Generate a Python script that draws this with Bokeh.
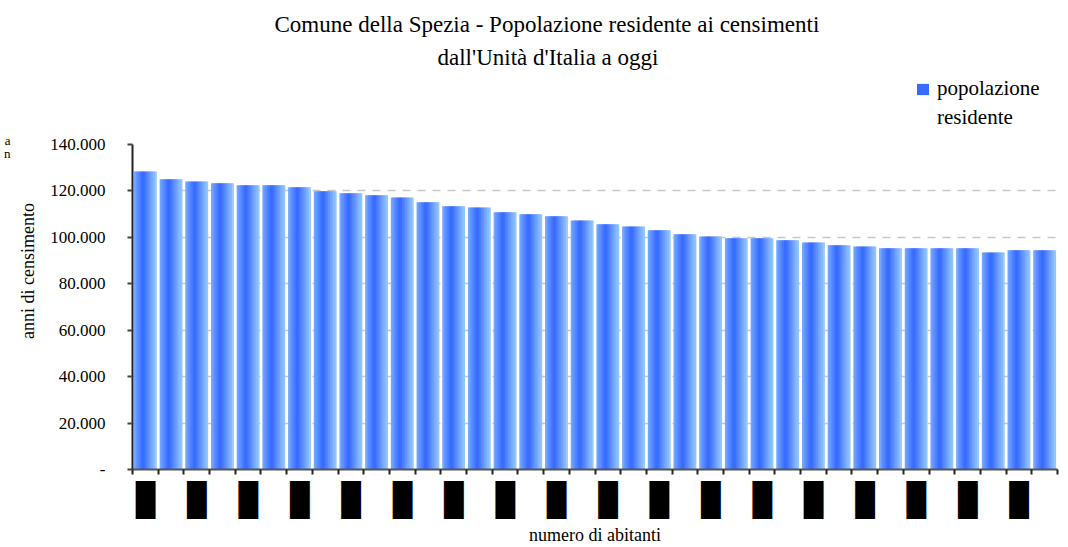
import numpy as np
from bokeh.plotting import figure
from bokeh.models import (ColumnDataSource, FixedTicker, LinearAxis, Legend,
                          LegendItem, Range1d, Grid, Title)
from bokeh.transform import dodge
from bokeh.embed import file_html
from bokeh.resources import INLINE

# ---------------- data ----------------
populations = [128400, 125000, 124100, 123300, 122400, 122400, 121600, 119800,
               119000, 118100, 117200, 115100, 113400, 112900, 110800, 109900,
               109100, 107300, 105600, 104700, 103000, 101300, 100400, 99600,
               99600, 98700, 97800, 96600, 96100, 95300, 95300, 95300,
               95300, 93500, 94400, 94400]
x_tick_labels = ["\u2588"] * 18          # labels shown on every other category
y_ticks = [0, 20000, 40000, 60000, 80000, 100000, 120000, 140000]
y_tick_labels = ["-", "20.000", "40.000", "60.000", "80.000", "100.000", "120.000", "140.000"]
title_lines = ["Comune della Spezia - Popolazione residente ai censimenti",
               "dall'Unit\u00e0 d'Italia a oggi"]
legend_lines = ["popolazione", "residente"]
y_title = "anni di censimento"
x_title = "numero di abitanti"
stray_texts = ["a", "n"]
stray_pos = [141800, 136200]

n = len(populations)
src = ColumnDataSource(dict(x=[i + 0.5 for i in range(n)], pop=populations))

SERIF = "Liberation Serif"

# y range extends above 140.000 so the legend lies inside the frame
p = figure(width=1068, height=547, x_range=Range1d(0, n), y_range=Range1d(0, 171000),
           output_backend="svg", toolbar_location=None,
           min_border_left=132, min_border_right=11, min_border_top=72, min_border_bottom=78,
           x_axis_location=None, y_axis_location=None)
p.outline_line_color = None
p.background_fill_color = "white"
p.border_fill_color = "white"
p.grid.visible = False

# y axis
yaxis = LinearAxis(ticker=FixedTicker(ticks=y_ticks, minor_ticks=[]),
                   major_label_overrides=dict(zip(y_ticks, y_tick_labels)),
                   bounds=(0, 140000))
yaxis.axis_line_color = "#222222"
yaxis.axis_line_width = 2
yaxis.major_tick_line_color = "#444444"
yaxis.major_tick_line_width = 2
yaxis.major_tick_out = 5
yaxis.major_tick_in = 0
yaxis.major_label_standoff = 22
yaxis.major_label_text_font = SERIF
yaxis.major_label_text_font_size = "17px"
yaxis.major_label_text_color = "#000000"
yaxis.axis_label = y_title
yaxis.axis_label_text_font = SERIF
yaxis.axis_label_text_font_size = "18px"
yaxis.axis_label_text_font_style = "normal"
yaxis.axis_label_text_color = "#000000"
yaxis.axis_label_standoff = 9
p.add_layout(yaxis, "left")

# stray clipped texts at far left
stray = LinearAxis(ticker=FixedTicker(ticks=stray_pos, minor_ticks=[]),
                   major_label_overrides=dict(zip(stray_pos, stray_texts)))
stray.axis_line_color = None
stray.major_tick_line_color = None
stray.major_tick_out = 0
stray.major_tick_in = 0
stray.major_label_standoff = 5
stray.major_label_text_font = SERIF
stray.major_label_text_font_size = "13px"
stray.major_label_text_color = "#000000"
p.add_layout(stray, "left")

grid = Grid(dimension=1, ticker=FixedTicker(ticks=y_ticks[1:-1], minor_ticks=[]))
grid.grid_line_color = "#c8c8c8"
grid.grid_line_width = 1.5
grid.grid_line_dash = "8 7"
p.add_layout(grid)

# gradient bars built of vertical strips
bar_w = 0.89
N = 14
sw = bar_w / N
light = np.array([153, 204, 255])
dark = np.array([51, 102, 255])
renderers = []
for k in range(N):
    t = (k + 0.5) / N
    if t < 0.42:
        f = 0.3 + 0.7 * (t / 0.42)
    else:
        f = 1.0 - (t - 0.42) / 0.58
    c = light + (dark - light) * f
    color = "#%02x%02x%02x" % tuple(int(round(v)) for v in c)
    off = -bar_w / 2 + sw * (k + 0.5)
    r = p.vbar(x=dodge("x", off, range=p.x_range), top="pop", bottom=0,
               width=sw * 1.5 if 0 < k < N - 1 else sw, source=src,
               fill_color=color, line_color=None)
    renderers.append((f, r))

# invisible renderer used for the second legend line
ghost = p.vbar(x="x", top="pop", bottom=0, width=0.01, source=src,
               fill_alpha=0, line_alpha=0)

# x axis: ticks at category boundaries
xaxis_ticks = LinearAxis(ticker=FixedTicker(ticks=list(range(n + 1)), minor_ticks=[]),
                         major_label_overrides={i: "" for i in range(n + 1)})
xaxis_ticks.axis_line_color = "#555555"
xaxis_ticks.axis_line_width = 2
xaxis_ticks.major_tick_line_color = "#222222"
xaxis_ticks.major_tick_line_width = 2
xaxis_ticks.major_tick_out = 5
xaxis_ticks.major_tick_in = 0
xaxis_ticks.major_label_text_font_size = "1px"
xaxis_ticks.major_label_standoff = 0
p.add_layout(xaxis_ticks, "below")

# x axis: labels on every other category, plus axis title
label_pos = [i + 0.5 for i in range(0, n, 2)]
xaxis_labels = LinearAxis(ticker=FixedTicker(ticks=label_pos, minor_ticks=[]),
                          major_label_overrides=dict(zip(label_pos, x_tick_labels)))
xaxis_labels.axis_line_color = None
xaxis_labels.major_tick_line_color = None
xaxis_labels.major_tick_out = 0
xaxis_labels.major_tick_in = 0
xaxis_labels.major_label_standoff = 6
xaxis_labels.major_label_text_font = "DejaVu Sans Mono"
xaxis_labels.major_label_text_font_size = "32px"
xaxis_labels.major_label_text_color = "#000000"
xaxis_labels.axis_label = x_title
xaxis_labels.axis_label_text_font = SERIF
xaxis_labels.axis_label_text_font_size = "18px"
xaxis_labels.axis_label_text_font_style = "normal"
xaxis_labels.axis_label_text_color = "#000000"
xaxis_labels.axis_label_standoff = 3
p.add_layout(xaxis_labels, "below")

# legend inside the (extended) frame
darkest = max(renderers, key=lambda fr: fr[0])[1]
legend = Legend(items=[LegendItem(label=legend_lines[0], renderers=[darkest]),
                       LegendItem(label=legend_lines[1], renderers=[ghost])],
                location=(783, 339), orientation="vertical")
legend.background_fill_alpha = 0
legend.border_line_color = None
legend.padding = 0
legend.margin = 0
legend.spacing = 4
legend.glyph_width = 15
legend.glyph_height = 14
legend.label_standoff = 7
legend.label_text_font = SERIF
legend.label_text_font_size = "21px"
legend.label_text_color = "#000000"
legend.label_height = 24
p.add_layout(legend, "center")

# titles (line 2 added first: nearest the frame)
for line, off in [(title_lines[1], 305), (title_lines[0], 142)]:
    t = Title(text=line, align="left", offset=off, text_font=SERIF,
              text_font_size="23px", text_font_style="normal", text_color="#000000",
              standoff=6)
    p.add_layout(t, "above")

open("out.html", "w").write(file_html(p, INLINE))
